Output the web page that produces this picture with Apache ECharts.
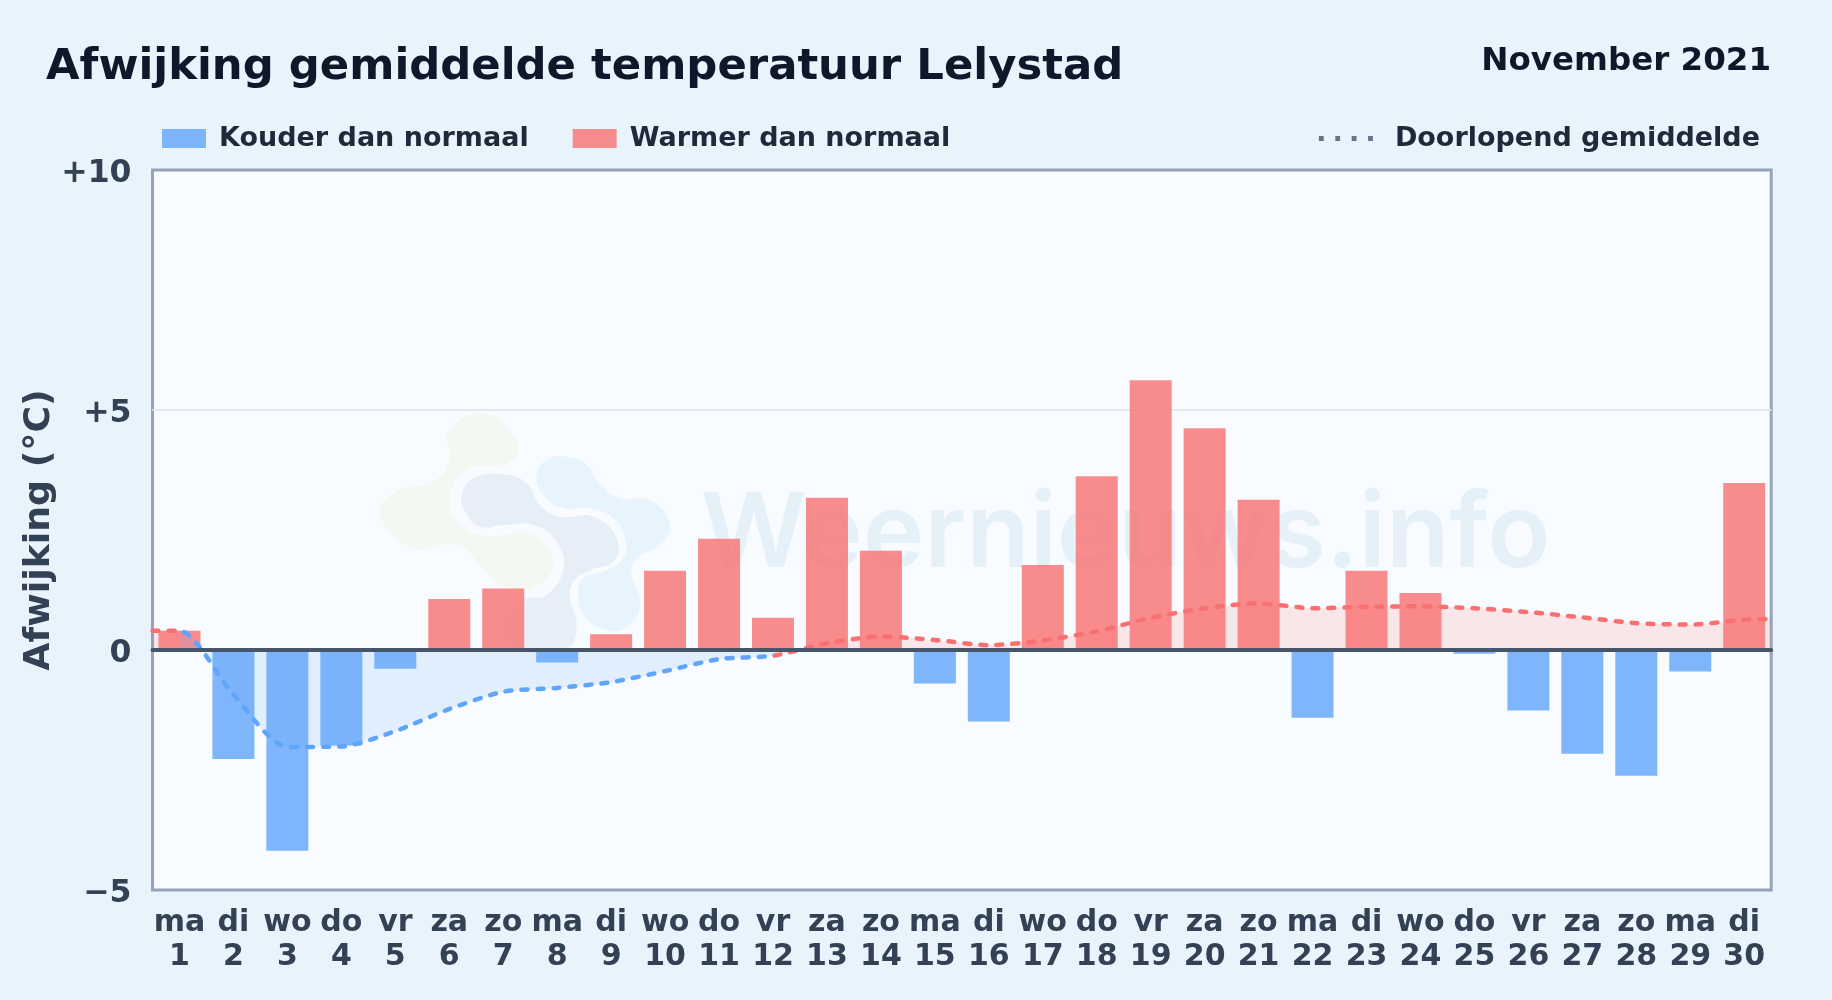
<!DOCTYPE html>
<html><head><meta charset="utf-8">
<style>html,body{margin:0;padding:0;background:#e8f3fc}#c{width:1832px;height:1000px}</style>
<script src="https://cdn.jsdelivr.net/npm/echarts@6/dist/echarts.min.js"></script>
</head><body><div id="c"></div>
<script>
const weekdays = ['ma','di','wo','do','vr','za','zo','ma','di','wo','do','vr','za','zo','ma','di','wo','do','vr','za','zo','ma','di','wo','do','vr','za','zo','ma','di'];
const days = [1,2,3,4,5,6,7,8,9,10,11,12,13,14,15,16,17,18,19,20,21,22,23,24,25,26,27,28,29,30];
const anomaly = [0.40,-2.27,-4.18,-1.99,-0.39,1.06,1.28,-0.26,0.33,1.65,2.32,0.67,3.17,2.07,-0.70,-1.49,1.77,3.62,5.62,4.62,3.13,-1.41,1.65,1.19,-0.08,-1.26,-2.16,-2.62,-0.45,3.48];
const runningMean = [0.40,-0.93,-2.02,-2.01,-1.69,-1.23,-0.87,-0.79,-0.67,-0.44,-0.19,-0.12,0.14,0.28,0.21,0.10,0.20,0.39,0.67,0.87,0.97,0.87,0.90,0.91,0.87,0.79,0.68,0.56,0.53,0.63];
const lineStartValue = 0.40;
const lineEndValue = 0.65;
const yTicks = {'-5':'\u22125','0':'0','5':'+5','10':'+10'};
const FONT = '"DejaVu Sans"';
const BLUE = '#60a5fa', RED = '#f87171';

const cats = weekdays.map((w,i)=>w+'\n'+days[i]);
const cold = anomaly.map(v=>v<0?v:null);
const warm = anomaly.map(v=>v>=0?v:null);
const linePts = [[0,lineStartValue]].concat(runningMean.map((v,i)=>[i+0.5,v]),[[30,lineEndValue]]);

function blob(points, fill){
  return {type:'polygon', z:1, silent:true, x:360, y:395, scaleX:1/3, scaleY:1/3,
    shape:{points:points, smooth:0.45}, style:{fill:fill}};
}
const chart = echarts.init(document.getElementById('c'), null, {renderer:'canvas'});
chart.setOption({
  animation:false,
  backgroundColor:'#e8f3fc',
  textStyle:{fontFamily:FONT},
  title:[
    {text:'Afwijking gemiddelde temperatuur Lelystad', left:46, top:46, padding:0,
     textStyle:{fontFamily:FONT,fontWeight:'bold',fontSize:43.35,color:'#0f172a'}},
    {text:'November 2021', right:61, top:45, padding:0,
     textStyle:{fontFamily:FONT,fontWeight:'bold',fontSize:32.5,color:'#0f172a'}}
  ],
  legend:[
    {left:162, top:125, padding:0, icon:'rect', itemWidth:44, itemHeight:19, itemGap:44,
     data:['Kouder dan normaal','Warmer dan normaal'],
     textStyle:{fontFamily:FONT,fontWeight:'bold',fontSize:27,color:'#1e293b',padding:[0,0,0,8]},
     selectedMode:false},
    {right:72, top:125, padding:0, itemWidth:54, itemHeight:5,
     data:[{name:'Doorlopend gemiddelde',icon:'path://M0 0h5v5h-5zM17 0h5v5h-5zM34 0h5v5h-5zM51 0h5v5h-5z'}],
     itemStyle:{color:'#64748b'},
     textStyle:{fontFamily:FONT,fontWeight:'bold',fontSize:27,color:'#1e293b',padding:[0,0,0,17]},
     selectedMode:false}
  ],
  grid:{left:152.5,right:60.8,top:170,bottom:110,show:true,backgroundColor:'#f8fbff',borderColor:'#94a3b8',borderWidth:3},
  xAxis:[
    {type:'category',data:cats,position:'bottom',boundaryGap:true,
     axisLine:{show:false,onZero:false},axisTick:{show:false},splitLine:{show:false},
     axisLabel:{interval:0,margin:16,fontFamily:FONT,fontWeight:'bold',fontSize:30,lineHeight:34,color:'#334155'}},
    {type:'value',min:0,max:30,position:'top',z:5,
     axisLine:{show:true,onZero:true,lineStyle:{color:'#475569',width:4}},
     axisTick:{show:false},axisLabel:{show:false},splitLine:{show:false}}
  ],
  yAxis:{type:'value',min:-5,max:10,interval:5,
    name:'Afwijking (\u00b0C)',nameLocation:'middle',nameGap:95,nameRotate:90,nameMoveOverlap:false,
    nameTextStyle:{fontFamily:FONT,fontWeight:'bold',fontSize:36.3,color:'#334155'},
    axisLine:{show:false},axisTick:{show:false},
    axisLabel:{margin:21,fontFamily:FONT,fontWeight:'bold',fontSize:31.5,color:'#334155',verticalAlign:'top',lineHeight:7,
      formatter:v=>yTicks[String(v)]},
    splitLine:{show:true,showMinLine:false,showMaxLine:false,lineStyle:{color:'#e2e8f0',width:2}}},
  visualMap:{show:false,type:'piecewise',dimension:0,seriesIndex:2,
    pieces:[{gte:-1,lt:0.5,color:RED},{gte:0.5,lt:11.5,color:BLUE},{gte:11.5,lte:31,color:RED}]},
  series:[
    {name:'Kouder dan normaal',type:'bar',data:cold,barWidth:42,barGap:'-100%',z:3,
     itemStyle:{color:'rgba(96,165,250,0.8)'}},
    {name:'Warmer dan normaal',type:'bar',data:warm,barWidth:42,barGap:'-100%',z:3,
     itemStyle:{color:'rgba(248,113,113,0.8)'}},
    {name:'Doorlopend gemiddelde',type:'line',xAxisIndex:1,data:linePts,smooth:0.25,showSymbol:false,symbol:'none',z:4,
     lineStyle:{width:4.5,type:[6,10],cap:'round'},
     areaStyle:{opacity:0.15,origin:0}}
  ],
  graphic:[
    {type:'text',z:1,silent:true,x:701,y:588,style:{text:'Weernieuws.info',fontFamily:'"Inter"',fontWeight:600,fontSize:103.7,fill:'#e6f0f9',verticalAlign:'bottom'}},
    blob([[265,110],[370,55],[475,150],[440,205],[330,220],[270,300],[300,390],[390,425],[510,415],[580,500],[510,585],[420,570],[370,520],[290,450],[160,460],[60,360],[110,290],[220,260],[270,190]],'#f3f9f2'),
    blob([[305,300],[340,250],[430,238],[500,265],[540,330],[600,365],[700,365],[770,430],[760,500],[690,525],[640,560],[630,610],[650,690],[620,760],[470,760],[435,690],[490,615],[560,600],[610,520],[590,440],[520,390],[430,390],[360,395],[315,350]],'#e6eff8'),
    blob([[530,240],[560,195],[620,185],[680,210],[720,270],[780,310],[870,315],[930,390],[900,450],[830,490],[815,540],[840,620],[810,690],[740,705],[670,660],[655,600],[670,550],[740,525],[790,490],[795,430],[760,370],[690,340],[610,340],[550,300]],'#e8f4fd')
  ]
});
</script></body></html>
